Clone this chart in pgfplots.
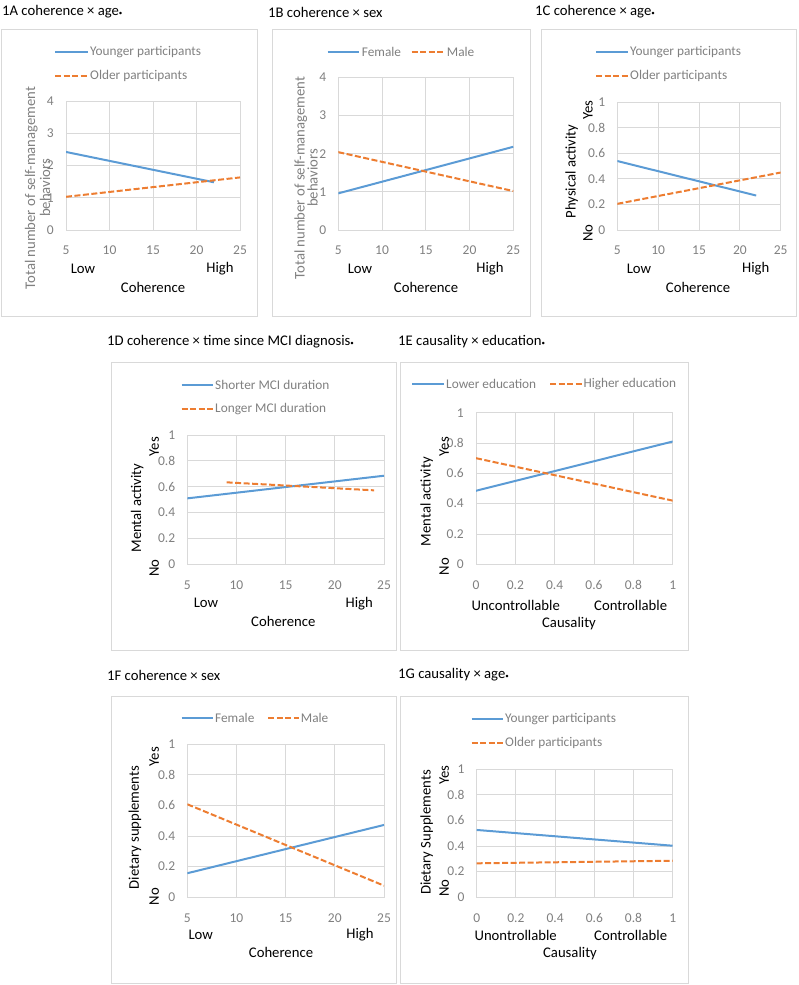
\documentclass[border=0pt]{standalone}
\usepackage{pgfplots}
\pgfplotsset{compat=1.18}
\usepackage{fontspec}
\setmainfont{Carlito}

\definecolor{bl}{HTML}{5B9BD5}
\definecolor{orr}{HTML}{ED7D31}
\definecolor{gridc}{HTML}{D9D9D9}
\definecolor{framec}{HTML}{D9D9D9}
\definecolor{tickc}{HTML}{808080}

\newcommand{\tickfont}{\fontsize{13.5}{15}\selectfont}
\newcommand{\legfont}{\fontsize{13.3}{15}\selectfont}
\newcommand{\labfont}{\fontsize{14.7}{17}\selectfont}
\newcommand{\sig}{{\fontsize{7}{7}\selectfont\raisebox{0.15ex}{•}}}

\tikzset{
  sol/.style={color=bl, line width=2pt},
  das/.style={color=orr, line width=2pt, dash pattern=on 6pt off 2.5pt},
}
\pgfplotsset{
  panel/.style={
    scale only axis, anchor=south west,
    axis line style={draw=gridc, line width=0.9pt},
    grid=major, major grid style={draw=gridc, line width=0.9pt},
    tick style={draw=none},
    ticklabel style={font=\tickfont, text=tickc},
    xticklabel style={anchor=center, inner sep=0pt, yshift=-20.5pt},
    yticklabel style={anchor=east, inner sep=0pt, xshift=-12pt},
    /pgf/number format/assume math mode=true,
  },
  cohx/.style={xmin=5, xmax=25, xtick={5,10,15,20,25}},
  caux/.style={xmin=0, xmax=1, xtick={0,0.2,0.4,0.6,0.8,1}},
  beh/.style={ymin=0, ymax=4, ytick={0,1,2,3,4}},
  prob/.style={ymin=0, ymax=1, ytick={0,0.2,0.4,0.6,0.8,1}},
}

\begin{document}
\begin{tikzpicture}
\path[use as bounding box] (0pt,0pt) rectangle (798pt,-985pt);

% ---- 1A coherence x age
\begin{axis}[panel, cohx, beh, at={(66pt,-230pt)}, width=174pt, height=129pt]
  \addplot[sol] coordinates {(5,2.42) (22,1.48)};
  \addplot[das] coordinates {(5,1.03) (25,1.63)};
\end{axis}

% ---- 1B coherence x sex
\begin{axis}[panel, cohx, beh, at={(338.3pt,-230pt)}, width=175pt, height=152.7pt]
  \addplot[sol] coordinates {(5,0.96) (25,2.18)};
  \addplot[das] coordinates {(5,2.04) (25,1.02)};
\end{axis}

% ---- 1C coherence x age, physical activity
\begin{axis}[panel, cohx, prob, at={(617.3pt,-230pt)}, width=163.4pt, height=127.7pt]
  \addplot[sol] coordinates {(5,0.54) (22,0.27)};
  \addplot[das] coordinates {(5,0.205) (25,0.45)};
\end{axis}

% ---- 1D coherence x time since MCI diagnosis
\begin{axis}[panel, cohx, prob, at={(187.3pt,-564.3pt)}, width=196.7pt, height=129.3pt]
  \addplot[sol] coordinates {(5,0.51) (25,0.685)};
  \addplot[das] coordinates {(9,0.634) (24,0.572)};
\end{axis}

% ---- 1E causality x education
\begin{axis}[panel, caux, prob, at={(476pt,-564.3pt)}, width=196.7pt, height=151.6pt]
  \addplot[sol] coordinates {(0,0.485) (1,0.81)};
  \addplot[das] coordinates {(0,0.70) (1,0.42)};
\end{axis}

% ---- 1F coherence x sex, dietary supplements
\begin{axis}[panel, cohx, prob, at={(187.3pt,-897.3pt)}, width=196.7pt, height=153.3pt]
  \addplot[sol] coordinates {(5,0.157) (25,0.472)};
  \addplot[das] coordinates {(5,0.607) (25,0.076)};
\end{axis}

% ---- 1G causality x age, dietary supplements
\begin{axis}[panel, caux, prob, at={(476.7pt,-897.3pt)}, width=196pt, height=128.3pt]
  \addplot[sol] coordinates {(0,0.525) (1,0.402)};
  \addplot[das] coordinates {(0,0.265) (1,0.285)};
\end{axis}

\begin{scope}[x=1pt, y=-1pt, every node/.style={inner sep=0pt}]
  % frames
  \draw[framec, line width=0.9pt] (1,29) rectangle (257,316);
  \draw[framec, line width=0.9pt] (272,29) rectangle (530,316);
  \draw[framec, line width=0.9pt] (541.7,29) rectangle (796,316);
  \draw[framec, line width=0.9pt] (111.7,362.7) rectangle (396,650);
  \draw[framec, line width=0.9pt] (400,362.7) rectangle (688.3,650);
  \draw[framec, line width=0.9pt] (111.7,696.7) rectangle (396,983.3);
  \draw[framec, line width=0.9pt] (400,696.7) rectangle (688.3,983.3);

  % titles
  \node[anchor=west, font=\labfont] at (2,12) {1A coherence × age\sig};
  \node[anchor=west, font=\labfont] at (268,12) {1B coherence × sex};
  \node[anchor=west, font=\labfont] at (535,12) {1C coherence × age\sig};
  \node[anchor=west, font=\labfont] at (107,341.7) {1D coherence × time since MCI diagnosis\sig};
  \node[anchor=west, font=\labfont] at (398,341.7) {1E causality × education\sig};
  \node[anchor=west, font=\labfont] at (107,675) {1F coherence × sex};
  \node[anchor=west, font=\labfont] at (398,675) {1G causality × age\sig};

  % legends
  \begin{scope}[every node/.append style={anchor=west, font=\legfont, text=tickc}]
    % 1A
    \draw[sol] (55,52) -- (88,52);  \node at (90,52) {Younger participants};
    \draw[das] (55,76) -- (88,76);  \node at (90,76) {Older participants};
    % 1B
    \draw[sol] (327.7,52) -- (359,52);  \node at (361.7,52) {Female};
    \draw[das] (411.7,52) -- (445,52);  \node at (446.7,52) {Male};
    % 1C
    \draw[sol] (596,52) -- (628.3,52);  \node at (630,52) {Younger participants};
    \draw[das] (596,76) -- (628.3,76);  \node at (630,76) {Older participants};
    % 1D
    \draw[sol] (181.7,385) -- (213.3,385);  \node at (215,385) {Shorter MCI duration};
    \draw[das] (181.7,409.3) -- (213.3,409.3);  \node at (215,409.3) {Longer MCI duration};
    % 1E
    \draw[sol] (412.3,384.3) -- (444.3,384.3);  \node at (446,384.3) {Lower education};
    \draw[das] (550,384.3) -- (581.7,384.3);  \node at (583.3,384.3) {Higher education};
    % 1F
    \draw[sol] (181.7,718.3) -- (213.3,718.3);  \node at (215,718.3) {Female};
    \draw[das] (268.3,718.3) -- (299,718.3);  \node at (300.7,718.3) {Male};
    % 1G
    \draw[sol] (471.7,719) -- (503.3,719);  \node at (505,719) {Younger participants};
    \draw[das] (471.7,742.7) -- (503.3,742.7);  \node at (505,742.7) {Older participants};
  \end{scope}

  % y axis titles
  \node[rotate=90, align=center, font=\labfont, text=tickc] at (37.5,188) {Total number of self-management\\[-2pt]behaviors};
  \node[rotate=90, align=center, font=\labfont, text=tickc] at (306,178) {Total number of self-management\\[-4pt]behaviors};
  \begin{scope}[every node/.append style={rotate=90, font=\labfont}]
    \node at (571.7,171.7) {Physical activity};
    \node at (588,110) {Yes};  \node at (588,233) {No};
    \node at (137.3,508) {Mental activity};
    \node at (154.3,446.7) {Yes};  \node at (154.3,568.3) {No};
    \node at (426.7,501.7) {Mental activity};
    \node at (444.3,446.7) {Yes};  \node at (444.3,566.7) {No};
    \node at (135,827.5) {Dietary supplements};
    \node at (154.3,756.7) {Yes};  \node at (154.3,896.7) {No};
    \node at (426.7,832.5) {Dietary Supplements};
    \node at (444.3,775) {Yes};  \node at (444.3,888.3) {No};
  \end{scope}

  % x axis titles and ends
  \begin{scope}[every node/.append style={font=\labfont}]
    \node at (83,269) {Low};  \node at (220,269) {High};  \node at (153,287) {Coherence};
    \node at (360,269) {Low};  \node at (490,269) {High};  \node at (426,287) {Coherence};
    \node at (639,269) {Low};  \node at (755.7,269) {High};  \node at (698,287) {Coherence};
    \node at (206,603.3) {Low};  \node at (359.3,603.3) {High};  \node at (283.3,621.7) {Coherence};
    \node at (515.7,605.7) {Uncontrollable};  \node at (630.7,605.7) {Controllable};  \node at (569,623.3) {Causality};
    \node at (200.7,935) {Low};  \node at (360,935) {High};  \node at (281,952.7) {Coherence};
    \node at (515.7,935) {Unontrollable};  \node at (630.7,935) {Controllable};  \node at (570,953.3) {Causality};
  \end{scope}
\end{scope}
\end{tikzpicture}
\end{document}
